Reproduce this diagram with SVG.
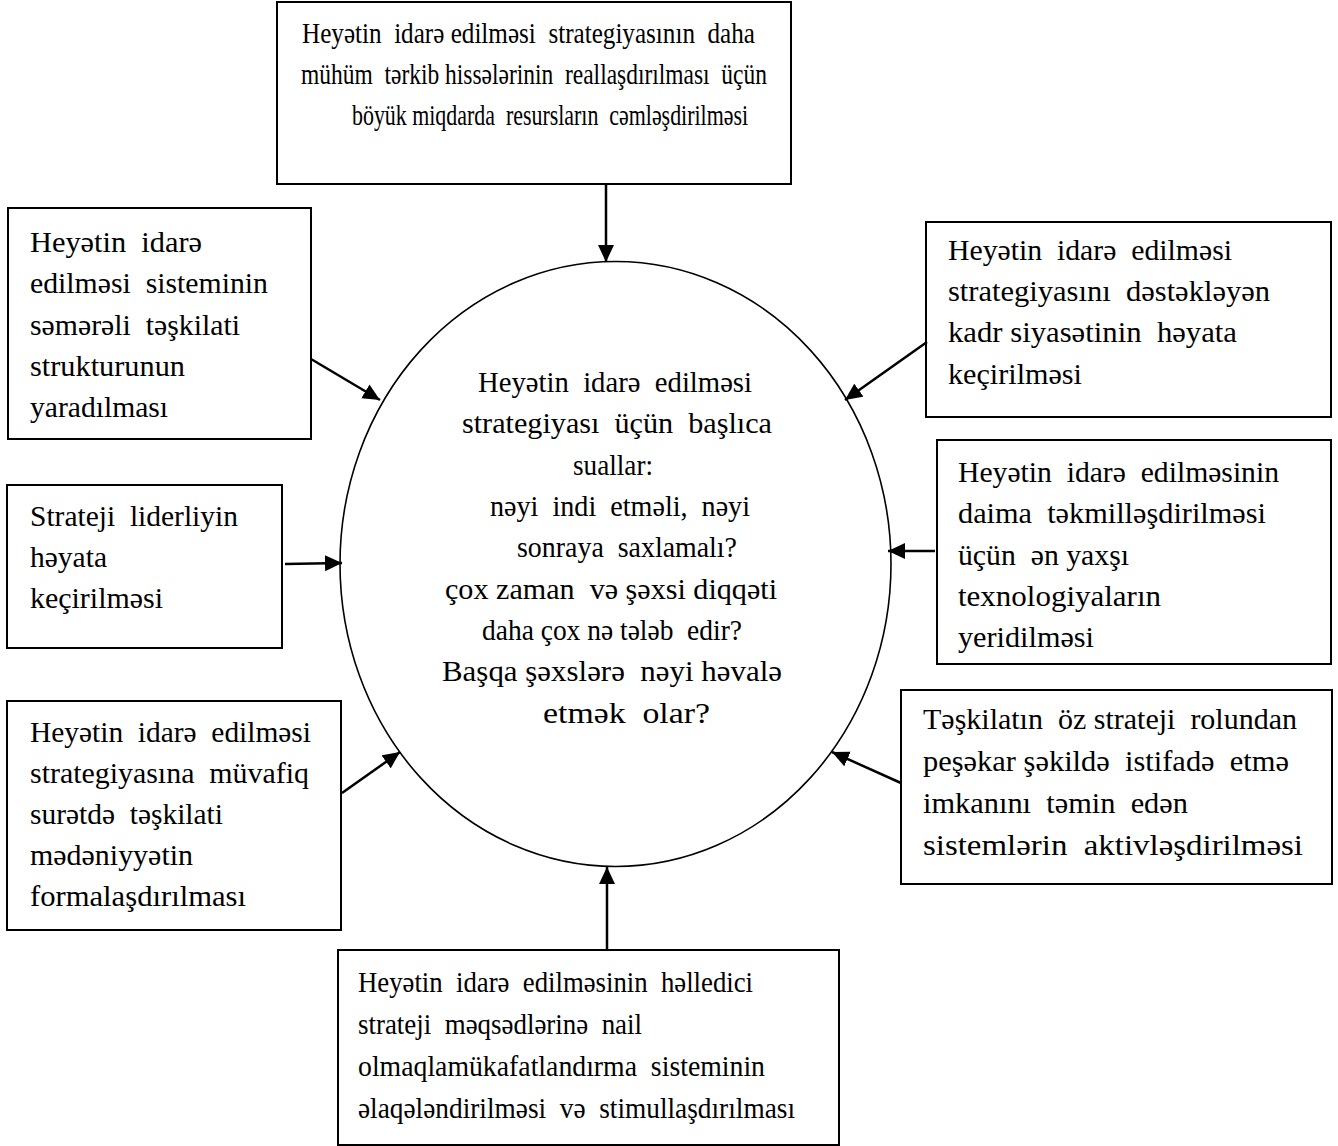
<svg xmlns="http://www.w3.org/2000/svg" width="1338" height="1146" viewBox="0 0 1338 1146">
  <style>
    .box { fill: #ffffff; stroke: #000000; stroke-width: 2; }
    .hub { fill: #ffffff; stroke: #000000; stroke-width: 1.6; }
    .t { font-family: "Liberation Serif", "Times New Roman", serif; font-size: 30px; fill: #000000; white-space: pre; }
    .link { fill: none; stroke: #000000; stroke-width: 2.5; marker-end: url(#ah); }
  </style>
  <defs>
    <marker id="ah" markerUnits="userSpaceOnUse" markerWidth="17" markerHeight="17" viewBox="0 0 17 17" refX="17" refY="8.5" orient="auto">
      <path d="M0,0.5 L17,8.5 L0,16.5 z" fill="#000000"/>
    </marker>
  </defs>
  <rect width="1338" height="1146" fill="#ffffff"/>

  <!-- central question ellipse -->
  <g id="hub">
    <ellipse class="hub" cx="615.5" cy="564" rx="275.5" ry="302.5"/>
    <text class="t" x="478" y="392" textLength="274" lengthAdjust="spacingAndGlyphs">Heyətin  idarə  edilməsi</text>
    <text class="t" x="462" y="433" textLength="310" lengthAdjust="spacingAndGlyphs">strategiyası  üçün  başlıca</text>
    <text class="t" x="573" y="475" textLength="80" lengthAdjust="spacingAndGlyphs">suallar:</text>
    <text class="t" x="490" y="516" textLength="260" lengthAdjust="spacingAndGlyphs">nəyi  indi  etməli,  nəyi</text>
    <text class="t" x="517" y="557" textLength="220" lengthAdjust="spacingAndGlyphs">sonraya  saxlamalı?</text>
    <text class="t" x="445" y="599" textLength="332" lengthAdjust="spacingAndGlyphs">çox zaman  və şəxsi diqqəti</text>
    <text class="t" x="482" y="640" textLength="260" lengthAdjust="spacingAndGlyphs">daha çox nə tələb  edir?</text>
    <text class="t" x="442" y="681" textLength="340" lengthAdjust="spacingAndGlyphs">Başqa şəxslərə  nəyi həvalə</text>
    <text class="t" x="543" y="723" textLength="167" lengthAdjust="spacingAndGlyphs">etmək  olar?</text>
  </g>

  <!-- top: resources -->
  <g id="n-resources">
    <rect class="box" x="277" y="2" width="514" height="182"/>
    <text class="t" x="302" y="43" textLength="453" lengthAdjust="spacingAndGlyphs">Heyətin  idarə edilməsi  strategiyasının  daha</text>
    <text class="t" x="301" y="84" textLength="466" lengthAdjust="spacingAndGlyphs">mühüm  tərkib hissələrinin  reallaşdırılması  üçün</text>
    <text class="t" x="352" y="125" textLength="396" lengthAdjust="spacingAndGlyphs">böyük miqdarda  resursların  cəmləşdirilməsi</text>
  </g>

  <!-- left: organisational structure -->
  <g id="n-structure">
    <rect class="box" x="8" y="208" width="303" height="231"/>
    <text class="t" x="30" y="252" textLength="172" lengthAdjust="spacingAndGlyphs">Heyətin  idarə</text>
    <text class="t" x="30" y="293" textLength="238" lengthAdjust="spacingAndGlyphs">edilməsi  sisteminin</text>
    <text class="t" x="30" y="335" textLength="210" lengthAdjust="spacingAndGlyphs">səmərəli  təşkilati</text>
    <text class="t" x="30" y="376" textLength="155" lengthAdjust="spacingAndGlyphs">strukturunun</text>
    <text class="t" x="30" y="417" textLength="138" lengthAdjust="spacingAndGlyphs">yaradılması</text>
  </g>

  <!-- left: strategic leadership -->
  <g id="n-leadership">
    <rect class="box" x="7" y="485" width="275" height="163"/>
    <text class="t" x="30" y="526" textLength="208" lengthAdjust="spacingAndGlyphs">Strateji  liderliyin</text>
    <text class="t" x="30" y="567" textLength="77" lengthAdjust="spacingAndGlyphs">həyata</text>
    <text class="t" x="30" y="608" textLength="133" lengthAdjust="spacingAndGlyphs">keçirilməsi</text>
  </g>

  <!-- left: organisational culture -->
  <g id="n-culture">
    <rect class="box" x="7" y="701" width="334" height="229"/>
    <text class="t" x="30" y="742" textLength="281" lengthAdjust="spacingAndGlyphs">Heyətin  idarə  edilməsi</text>
    <text class="t" x="30" y="783" textLength="279" lengthAdjust="spacingAndGlyphs">strategiyasına  müvafiq</text>
    <text class="t" x="30" y="824" textLength="193" lengthAdjust="spacingAndGlyphs">surətdə  təşkilati</text>
    <text class="t" x="30" y="865" textLength="163" lengthAdjust="spacingAndGlyphs">mədəniyyətin</text>
    <text class="t" x="30" y="906" textLength="216" lengthAdjust="spacingAndGlyphs">formalaşdırılması</text>
  </g>

  <!-- right: HR policy -->
  <g id="n-policy">
    <rect class="box" x="926" y="222" width="405" height="195"/>
    <text class="t" x="948" y="260" textLength="284" lengthAdjust="spacingAndGlyphs">Heyətin  idarə  edilməsi</text>
    <text class="t" x="948" y="301" textLength="322" lengthAdjust="spacingAndGlyphs">strategiyasını  dəstəkləyən</text>
    <text class="t" x="948" y="342" textLength="289" lengthAdjust="spacingAndGlyphs">kadr siyasətinin  həyata</text>
    <text class="t" x="948" y="384" textLength="134" lengthAdjust="spacingAndGlyphs">keçirilməsi</text>
  </g>

  <!-- right: best technologies -->
  <g id="n-technology">
    <rect class="box" x="937" y="440" width="394" height="224"/>
    <text class="t" x="958" y="482" textLength="321" lengthAdjust="spacingAndGlyphs">Heyətin  idarə  edilməsinin</text>
    <text class="t" x="958" y="523" textLength="308" lengthAdjust="spacingAndGlyphs">daima  təkmilləşdirilməsi</text>
    <text class="t" x="958" y="565" textLength="171" lengthAdjust="spacingAndGlyphs">üçün  ən yaxşı</text>
    <text class="t" x="958" y="606" textLength="203" lengthAdjust="spacingAndGlyphs">texnologiyaların</text>
    <text class="t" x="958" y="647" textLength="136" lengthAdjust="spacingAndGlyphs">yeridilməsi</text>
  </g>

  <!-- right: activating systems -->
  <g id="n-systems">
    <rect class="box" x="901" y="690" width="431" height="194"/>
    <text class="t" x="923" y="729" textLength="374" lengthAdjust="spacingAndGlyphs">Təşkilatın  öz strateji  rolundan</text>
    <text class="t" x="923" y="771" textLength="366" lengthAdjust="spacingAndGlyphs">peşəkar şəkildə  istifadə  etmə</text>
    <text class="t" x="923" y="813" textLength="265" lengthAdjust="spacingAndGlyphs">imkanını  təmin  edən</text>
    <text class="t" x="923" y="855" textLength="380" lengthAdjust="spacingAndGlyphs">sistemlərin  aktivləşdirilməsi</text>
  </g>

  <!-- bottom: reward system -->
  <g id="n-reward">
    <rect class="box" x="338" y="950" width="501" height="195"/>
    <text class="t" x="358" y="992" textLength="395" lengthAdjust="spacingAndGlyphs">Heyətin  idarə  edilməsinin  həlledici</text>
    <text class="t" x="358" y="1034" textLength="284" lengthAdjust="spacingAndGlyphs">strateji  məqsədlərinə  nail</text>
    <text class="t" x="358" y="1076" textLength="407" lengthAdjust="spacingAndGlyphs">olmaqlamükafatlandırma  sisteminin</text>
    <text class="t" x="358" y="1118" textLength="437" lengthAdjust="spacingAndGlyphs">əlaqələndirilməsi  və  stimullaşdırılması</text>
  </g>

  <!-- connectors: every box points at the ellipse -->
  <g id="connectors">
    <path class="link" d="M606,185 L606,262"/>
    <path class="link" d="M311,359 L380,400"/>
    <path class="link" d="M285,564 L342,563"/>
    <path class="link" d="M342,793 L400,752"/>
    <path class="link" d="M607,950 L607,867"/>
    <path class="link" d="M927,342 L845,400"/>
    <path class="link" d="M935,551 L888,551"/>
    <path class="link" d="M901,783 L832,752"/>
  </g>
</svg>
